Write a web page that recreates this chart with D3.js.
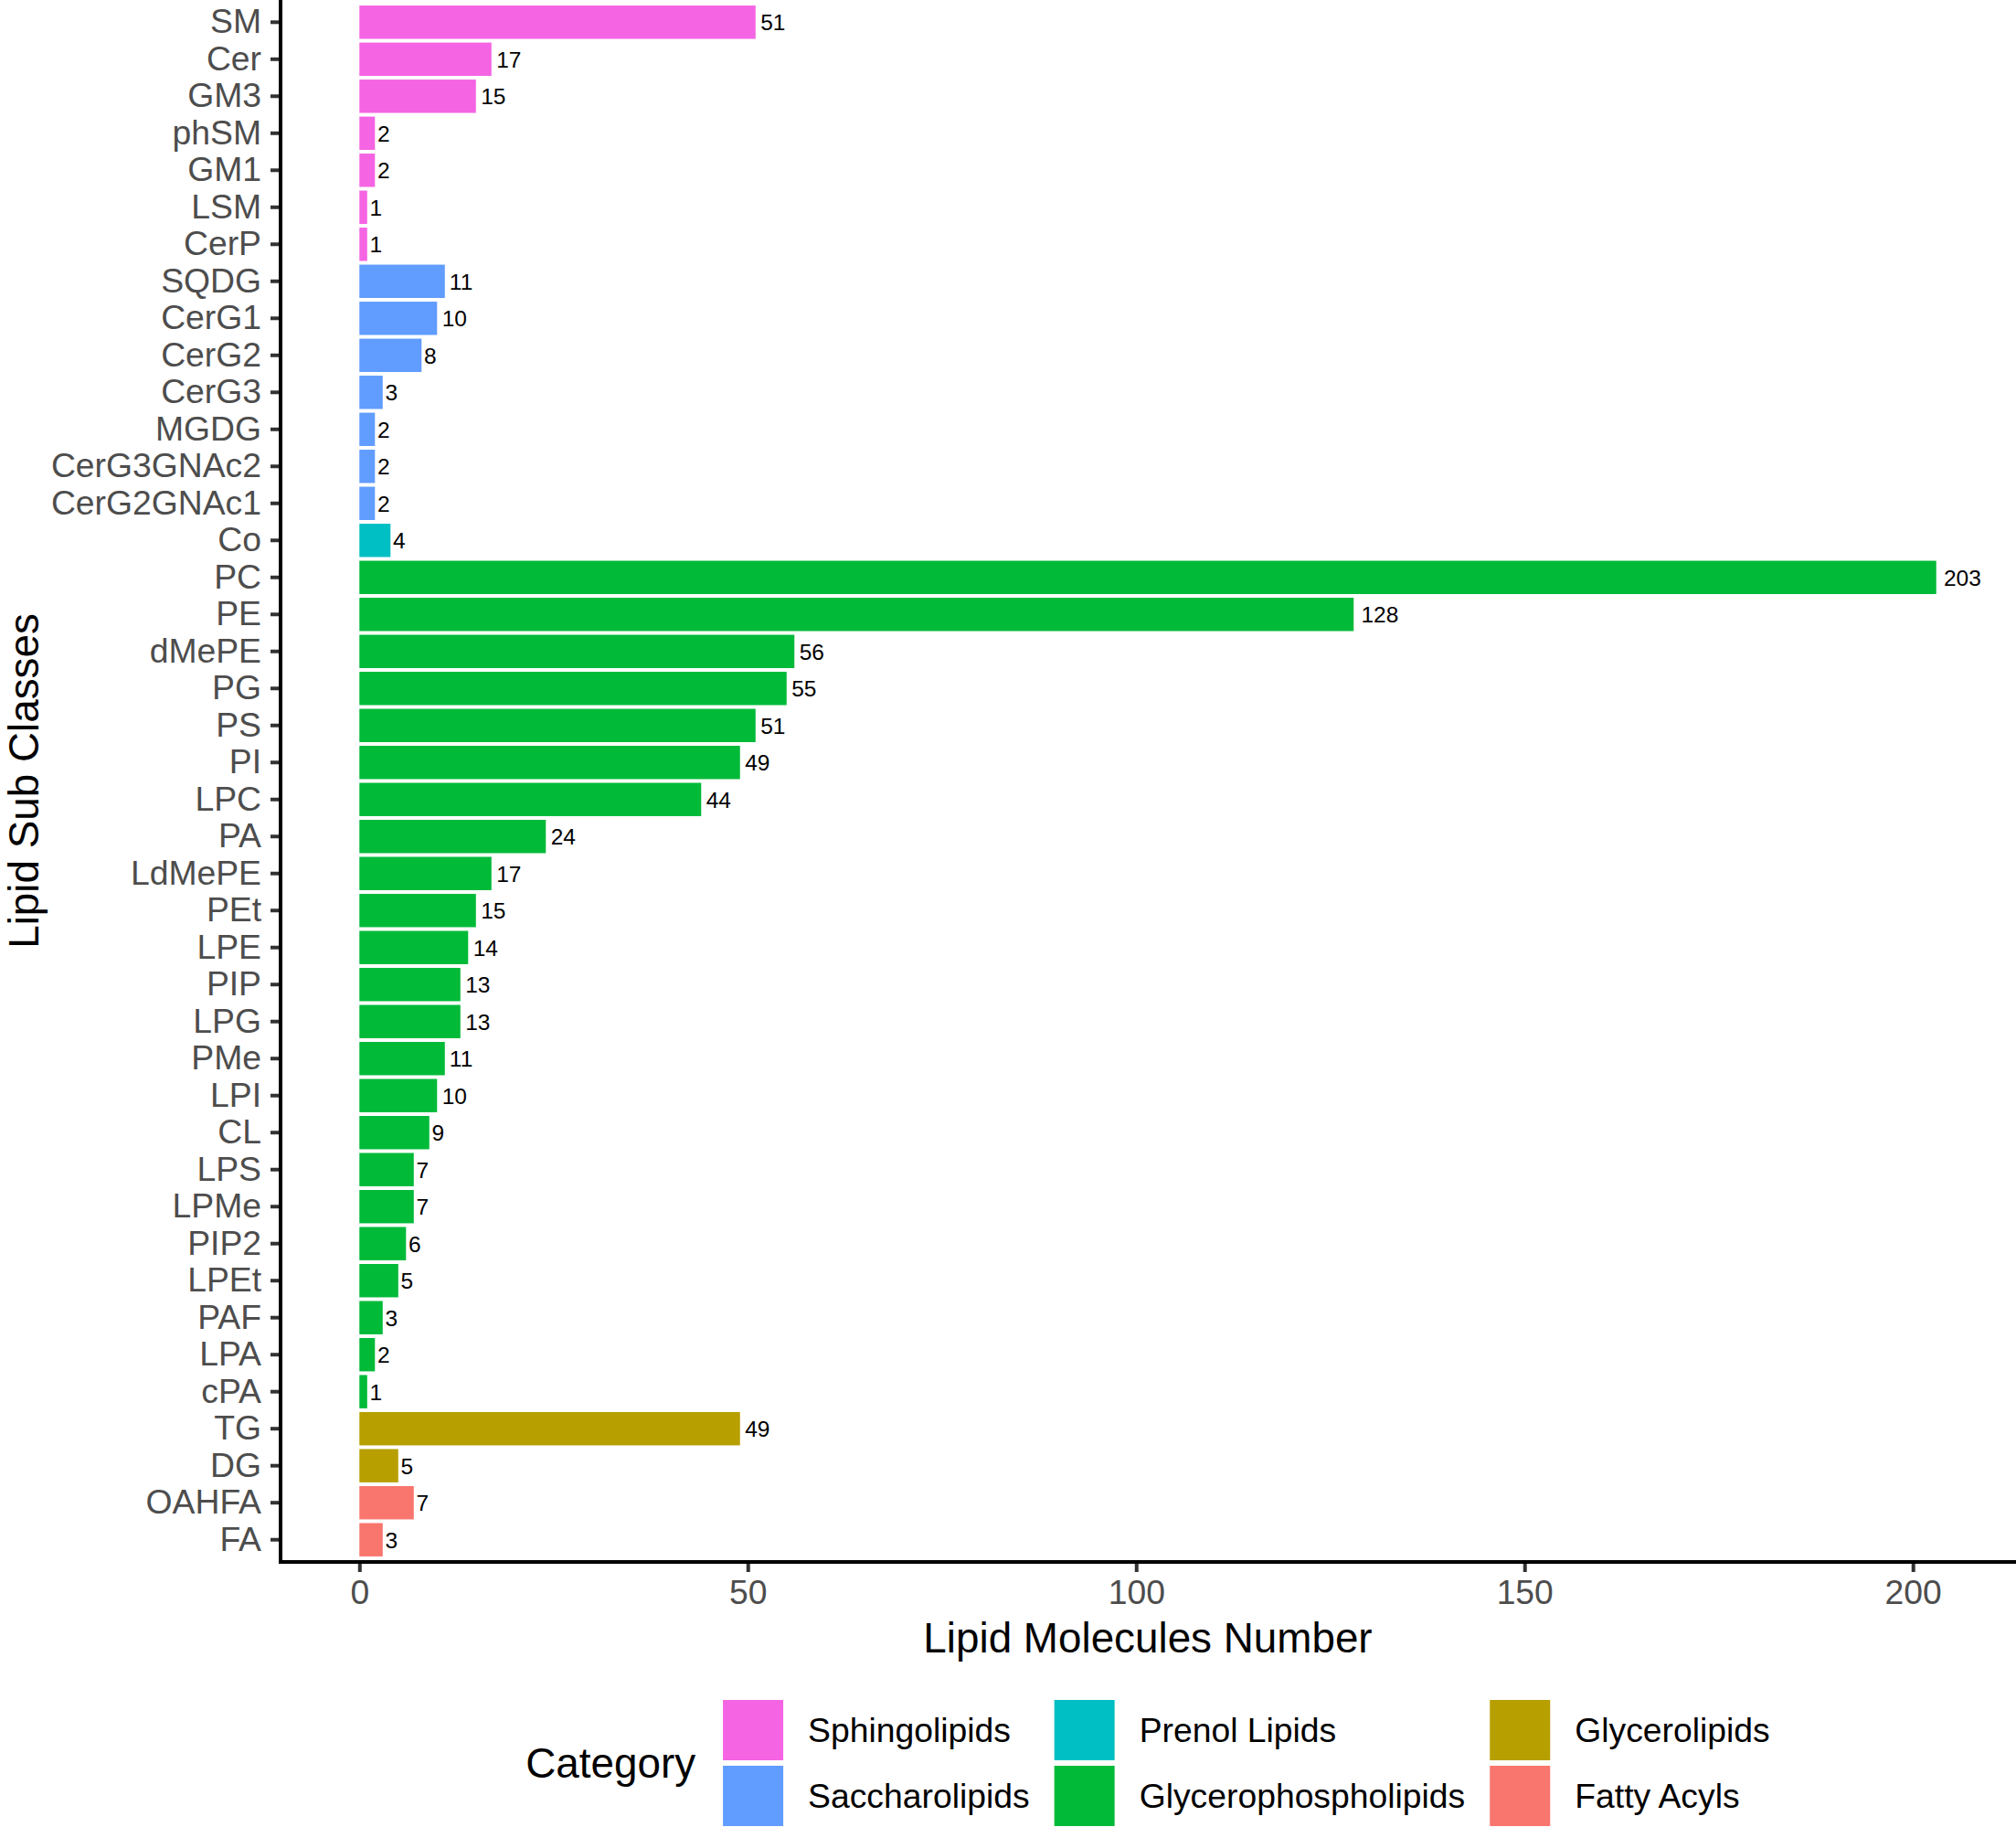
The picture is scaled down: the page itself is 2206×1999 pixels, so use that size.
<!DOCTYPE html>
<html>
<head>
<meta charset="utf-8">
<script src="https://cdn.jsdelivr.net/npm/d3@7"></script>
<style>
  html, body { margin: 0; padding: 0; background: #fff; }
  svg { display: block; }
  text { font-family: "Liberation Sans", Arial, Helvetica, sans-serif; }
</style>
</head>
<body>
<svg id="chart" width="2206" height="1999"></svg>
<script>
// ---- data ----
const subClasses = ["SM","Cer","GM3","phSM","GM1","LSM","CerP",
  "SQDG","CerG1","CerG2","CerG3","MGDG","CerG3GNAc2","CerG2GNAc1",
  "Co",
  "PC","PE","dMePE","PG","PS","PI","LPC","PA","LdMePE","PEt","LPE","PIP","LPG","PMe","LPI","CL","LPS","LPMe","PIP2","LPEt","PAF","LPA","cPA",
  "TG","DG",
  "OAHFA","FA"];
const counts = [51,17,15,2,2,1,1,
  11,10,8,3,2,2,2,
  4,
  203,128,56,55,51,49,44,24,17,15,14,13,13,11,10,9,7,7,6,5,3,2,1,
  49,5,
  7,3];
const classCategory = [
  "Sphingolipids","Sphingolipids","Sphingolipids","Sphingolipids","Sphingolipids","Sphingolipids","Sphingolipids",
  "Saccharolipids","Saccharolipids","Saccharolipids","Saccharolipids","Saccharolipids","Saccharolipids","Saccharolipids",
  "Prenol Lipids",
  "Glycerophospholipids","Glycerophospholipids","Glycerophospholipids","Glycerophospholipids","Glycerophospholipids","Glycerophospholipids","Glycerophospholipids","Glycerophospholipids","Glycerophospholipids","Glycerophospholipids","Glycerophospholipids","Glycerophospholipids","Glycerophospholipids","Glycerophospholipids","Glycerophospholipids","Glycerophospholipids","Glycerophospholipids","Glycerophospholipids","Glycerophospholipids","Glycerophospholipids","Glycerophospholipids","Glycerophospholipids","Glycerophospholipids",
  "Glycerolipids","Glycerolipids",
  "Fatty Acyls","Fatty Acyls"];
const legendOrder = ["Sphingolipids","Saccharolipids","Prenol Lipids","Glycerophospholipids","Glycerolipids","Fatty Acyls"];
const categoryColors = ["#F564E3","#619CFF","#00BFC4","#00BA38","#B79F00","#F8766D"];
const xTicks = [0, 50, 100, 150, 200];
const xTitle = "Lipid Molecules Number";
const yTitle = "Lipid Sub Classes";
const legendTitle = "Category";

const data = subClasses.map((s, i) => ({ name: s, value: counts[i], cat: classCategory[i] }));

// ---- layout ----
const svg = d3.select("#chart");
const panel = { left: 307, right: 2205, top: 0, bottom: 1709 };
const tickFont = 37.3, titleFont = 45.8, labelFont = 24.5;

const maxV = d3.max(counts);
const padX = maxV * 0.05;
const x = d3.scaleLinear().domain([-padX, maxV + padX]).range([panel.left, panel.right]);
const y = d3.scaleBand().domain(subClasses).range([panel.top, panel.bottom])
  .paddingInner(0.1).paddingOuter(0.15);
const color = d3.scaleOrdinal().domain(legendOrder).range(categoryColors);

// bars
svg.append("g").selectAll("rect").data(data).join("rect")
  .attr("x", x(0))
  .attr("y", d => y(d.name))
  .attr("width", d => x(d.value) - x(0))
  .attr("height", y.bandwidth())
  .attr("fill", d => color(d.cat));

// value labels (hjust = -0.2)
const vl = svg.append("g").selectAll("text").data(data).join("text")
  .attr("y", d => y(d.name) + y.bandwidth() / 2)
  .attr("dy", "0.36em")
  .attr("font-size", labelFont)
  .attr("fill", "#000")
  .text(d => d.value);
vl.each(function(d) {
  const w = this.getComputedTextLength();
  d3.select(this).attr("x", x(d.value) + 0.2 * w);
});

// y axis
const yAxis = svg.append("g").attr("transform", `translate(${panel.left},0)`)
  .call(d3.axisLeft(y).tickSize(11).tickPadding(10));
yAxis.select(".domain").remove();
yAxis.selectAll(".tick line").attr("stroke", "#333333").attr("stroke-width", 4);
yAxis.selectAll(".tick text").attr("font-size", tickFont).attr("fill", "#4D4D4D")
  .attr("font-family", "'Liberation Sans', Arial, sans-serif");

// x axis
const xAxis = svg.append("g").attr("transform", `translate(0,${panel.bottom})`)
  .call(d3.axisBottom(x).tickValues(xTicks).tickSize(11).tickPadding(9));
xAxis.select(".domain").remove();
xAxis.selectAll(".tick line").attr("stroke", "#333333").attr("stroke-width", 4);
xAxis.selectAll(".tick text").attr("font-size", tickFont).attr("fill", "#4D4D4D")
  .attr("font-family", "'Liberation Sans', Arial, sans-serif");

// axis lines
svg.append("line").attr("x1", panel.left).attr("x2", panel.left)
  .attr("y1", panel.top).attr("y2", panel.bottom + 2)
  .attr("stroke", "#000").attr("stroke-width", 4);
svg.append("line").attr("x1", panel.left - 2).attr("x2", 2206)
  .attr("y1", panel.bottom).attr("y2", panel.bottom)
  .attr("stroke", "#000").attr("stroke-width", 4);

// axis titles
const panelCx = (panel.left + panel.right) / 2;
svg.append("text").attr("x", panelCx).attr("y", 1808)
  .attr("text-anchor", "middle").attr("font-size", titleFont).attr("fill", "#000")
  .text(xTitle);
svg.append("text")
  .attr("transform", `translate(42,${(panel.top + panel.bottom) / 2}) rotate(-90)`)
  .attr("text-anchor", "middle").attr("font-size", titleFont).attr("fill", "#000")
  .text(yTitle);

// legend
const lg = svg.append("g");
const keySize = 66, keyGap = 6, textGap = 27, colGap = 27, titleGap = 30;
const legendTop = 1860;
const title = lg.append("text").attr("font-size", titleFont).attr("fill", "#000")
  .attr("dy", "0.35em").text(legendTitle);
const titleW = title.node().getComputedTextLength();
const cols = [];
for (let c = 0; c < 3; c++) cols.push(legendOrder.slice(c * 2, c * 2 + 2));
const measure = lg.append("text").attr("font-size", tickFont);
const colTextW = cols.map(items => d3.max(items, t => { measure.text(t); return measure.node().getComputedTextLength(); }));
measure.remove();
let totalW = titleW + titleGap;
colTextW.forEach((w, i) => { totalW += keySize + textGap + w + (i < 2 ? colGap : 0); });
let cx = panelCx - totalW / 2;
const legendMid = legendTop + keySize + keyGap / 2;
title.attr("x", cx).attr("y", legendMid);
cx += titleW + titleGap;
cols.forEach((items, ci) => {
  items.forEach((t, ri) => {
    const ky = legendTop + ri * (keySize + keyGap);
    lg.append("rect").attr("x", cx).attr("y", ky).attr("width", keySize).attr("height", keySize)
      .attr("fill", color(t));
    lg.append("text").attr("x", cx + keySize + textGap).attr("y", ky + keySize / 2)
      .attr("dy", "0.35em").attr("font-size", tickFont).attr("fill", "#000").text(t);
  });
  cx += keySize + textGap + colTextW[ci] + colGap;
});
</script>
</body>
</html>
